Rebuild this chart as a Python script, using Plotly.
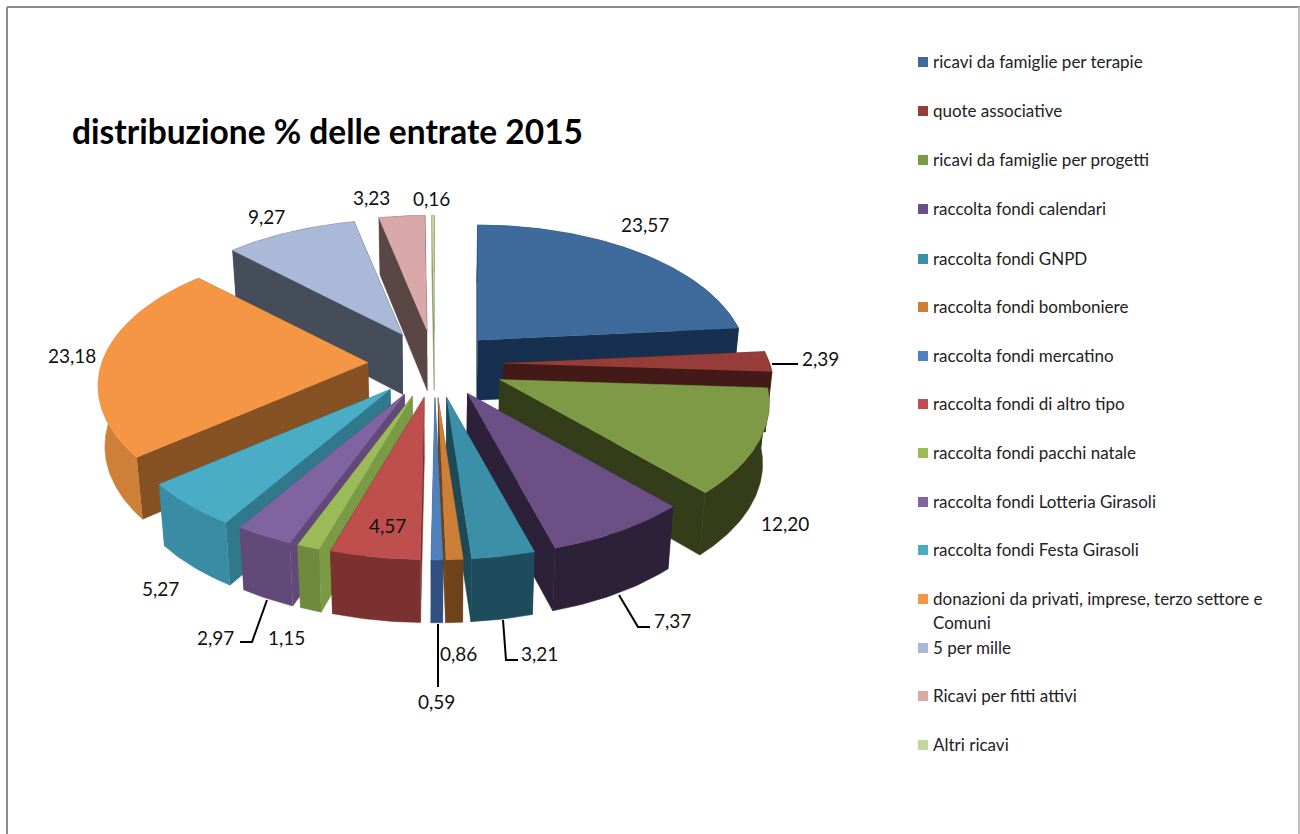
import math
import plotly.graph_objects as go

# ---- data ----
categories = [
    "ricavi da famiglie per terapie", "quote associative", "ricavi da famiglie per progetti",
    "raccolta fondi calendari", "raccolta fondi GNPD", "raccolta fondi bomboniere",
    "raccolta fondi mercatino", "raccolta fondi di altro tipo", "raccolta fondi pacchi natale",
    "raccolta fondi Lotteria Girasoli", "raccolta fondi Festa Girasoli",
    "donazioni da privati, imprese, terzo settore e\nComuni", "5 per mille",
    "Ricavi per fitti attivi", "Altri ricavi",
]
values = [23.57, 2.39, 12.20, 7.37, 3.21, 0.86, 0.59, 4.57, 1.15, 2.97, 5.27, 23.18, 9.27, 3.23, 0.16]
title = "distribuzione % delle entrate 2015"

# ---- styles ----
top_colors = ["#3F6A9C", "#963D3A", "#7F9A47", "#6B4F85", "#3B8FA8", "#CC7F36", "#4F81BD", "#BE4F4C",
              "#9BBB59", "#8064A2", "#4BACC6", "#F59645", "#AAB9D8", "#D9A8A8", "#C3D69B"]
side_colors = ["#17304F", "#431A17", "#333D1A", "#2C2139", "#1C4A57", "#6E431A", "#2C4A75", "#7A3130",
               "#7A9A46", "#62497A", "#32788C", "#865223", "#454C5A", "#5A4644", "#7A8A5A"]
rim_colors = ["#17304F", "#431A17", "#333D1A", "#2C2139", "#1F4C5C", "#6E431A", "#2F5080", "#7A3130",
              "#6F8A3F", "#614A77", "#3A8CA5", "#CF8038", "#454C5A", "#5A4644", "#7A8A5A"]
pulls = [0.24, 0.26, 0.27, 0.25, 0.25, 0.25, 0.25, 0.25, 0.25, 0.25, 0.25, 0.25, 0.25, 0.25, 0.25]

CX, CY = 434.5, 364    # pie centre on the pixel-scaled axes
RX, RY = 266, 134.6    # radii in the plane
PERSP = 0.17           # perspective strength
DEPTH = 60             # thickness of the pie
CONVERGE = 0.02        # vertical edges lean toward the centre

def project(u, v):
    s = 1 / (1 + PERSP * v)
    return RX * u * s, RY * v * s

def drop(v):
    return DEPTH * (1 - 0.05 * v)

def lower_x(x):
    return x - CONVERGE * (x - CX)

def rim(start, end, ox, oy, lower=False):
    n = max(3, int(math.degrees(end - start)))
    pts = []
    for i in range(n + 1):
        t = start + (end - start) * i / n
        x, y = project(math.sin(t), math.cos(t))
        px, py = ox + x, oy - y
        if lower:
            px, py = lower_x(px), py + drop(math.cos(t))
        pts.append((px, py))
    return pts

def poly(pts, color):
    return go.Scatter(x=[p[0] for p in pts], y=[p[1] for p in pts], mode="lines", fill="toself",
                      fillcolor=color, line=dict(width=0.5, color=color), hoverinfo="skip", showlegend=False)

total = sum(values)
slices = []
cum = 0
for i, v in enumerate(values):
    a0 = cum / total * 2 * math.pi
    cum += v
    a1 = cum / total * 2 * math.pi
    slices.append((i, a0, a1, (a0 + a1) / 2))

fig = go.Figure()
for i, a0, a1, mid in sorted(slices, key=lambda s: -math.cos(s[3])):
    ox = CX + RX * pulls[i] * math.sin(mid)
    oy = CY - RY * pulls[i] * math.cos(mid)
    top = rim(a0, a1, ox, oy)
    bottom = rim(a0, a1, ox, oy, True)
    foot = (lower_x(ox), oy + DEPTH)
    fig.add_trace(poly([(ox, oy), top[0], bottom[0], foot], side_colors[i]))
    fig.add_trace(poly([(ox, oy), top[-1], bottom[-1], foot], side_colors[i]))
    fig.add_trace(poly(top + bottom[::-1], rim_colors[i]))
    fig.add_trace(poly([(ox, oy)] + top, top_colors[i]))

# ---- value labels and leader lines ----
label_pos = [(645, 224), (820, 358), (785, 523), (672, 620), (539, 653), (458, 653), (436, 701), (387, 525),
             (286, 637), (215, 637), (160, 588), (72, 355), (266, 216), (371, 197), (431, 198)]
leaders = [[(772, 364), (798, 364)], [(619, 595), (638, 627), (650, 627)], [(503, 620), (506, 660), (518, 660)],
           [(438, 624), (438, 687)], [(267, 600), (252, 642), (240, 642)]]
LABEL_FONT = "Lato"
annotations = []
for v, (x, y) in zip(values, label_pos):
    annotations.append(dict(x=x, y=y, text=f"{v:.2f}".replace(".", ","), showarrow=False,
                            font=dict(family=LABEL_FONT, size=19, color="#111111")))
for seg in leaders:
    fig.add_trace(go.Scatter(x=[p[0] for p in seg], y=[p[1] for p in seg], mode="lines",
                             line=dict(color="#000000", width=2), hoverinfo="skip", showlegend=False))

# ---- legend ----
legend_y = [61, 110, 159, 208, 258, 306, 355, 403, 452, 501, 549, 598, 647, 695, 744]
line_gap = 24
fig.add_trace(go.Scatter(x=[923] * len(legend_y), y=[y + 1 for y in legend_y], mode="markers",
                         marker=dict(symbol="square", size=10, color=top_colors), hoverinfo="skip", showlegend=False))
for name, y in zip(categories, legend_y):
    for k, line in enumerate(name.split("\n")):
        annotations.append(dict(x=931, y=y + k * line_gap, text=line, xanchor="left", showarrow=False,
                                font=dict(family=LABEL_FONT, size=17, color="#222222")))

annotations.append(dict(x=70, y=131, text=f"<b>{title}</b>", xanchor="left", showarrow=False,
                        font=dict(family=LABEL_FONT, size=33.5, color="#000000")))

frame = dict(type="line", layer="above")
shapes = [
    dict(frame, x0=7, x1=1300, y0=7, y1=7, line=dict(color="#8C8C8C", width=2)),
    dict(frame, x0=7, x1=7, y0=7, y1=834, line=dict(color="#8C8C8C", width=2)),
    dict(frame, x0=1299, x1=1299, y0=7, y1=834, line=dict(color="#BDBDBD", width=2)),
]

fig.update_layout(
    width=1300, height=834, margin=dict(l=0, r=0, t=0, b=0), paper_bgcolor="white", plot_bgcolor="white",
    xaxis=dict(range=[0, 1300], visible=False, fixedrange=True),
    yaxis=dict(range=[834, 0], visible=False, fixedrange=True),
    annotations=annotations, shapes=shapes, showlegend=False,
)
fig.write_html("out.html", config=dict(displayModeBar=False),
               post_script="document.body.style.margin='0';document.documentElement.style.overflow='hidden';")
